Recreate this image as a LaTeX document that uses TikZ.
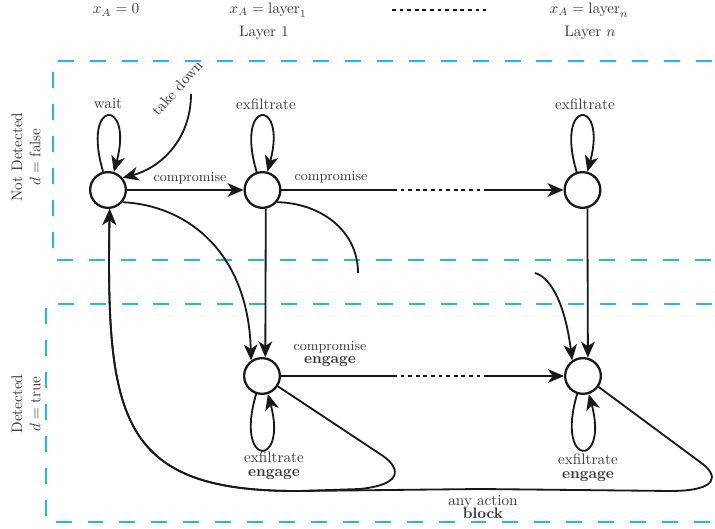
\documentclass[tikz,border=0pt]{standalone}
\usetikzlibrary{arrows.meta}
\definecolor{dashblue}{RGB}{30,185,235}
\definecolor{txt}{RGB}{55,55,55}
\begin{document}
\begin{tikzpicture}[x=0.658pt,y=-0.658pt,
  state/.style={circle,draw=black!90,line width=1.5pt,minimum size=23.5pt,inner sep=0pt},
  edge/.style={line width=1.2pt,draw=black!90},
  arr/.style={edge,-{Stealth[length=10.5pt,width=9pt,inset=3pt]}},
  lbl/.style={text=txt,font=\normalsize,inner sep=1pt,align=center},
  elbl/.style={text=txt,font=\small,inner sep=1pt,align=center},
  region/.style={draw=dashblue,line width=1.2pt,dash pattern=on 10.5pt off 10.5pt},
  dotseg/.style={edge,dash pattern=on 2.5pt off 2.5pt}]
\useasboundingbox (0,0) rectangle (715,529);

% regions
\draw[region] (712,61) -- (53,61) -- (53,260) -- (712,260);
\draw[region] (712,304) -- (46,304) -- (46,522) -- (712,522);

% header
\node[lbl] (hx0) at (116,10) {$x_A=0$};
\node[lbl] (hx1) at (268,10) {$x_A=\mathrm{layer}_1$};
\node[lbl] (hxn) at (589,10) {$x_A=\mathrm{layer}_n$};
\node[lbl] (h1) at (264,33) {Layer 1};
\node[lbl] (hn) at (590,33) {Layer $n$};
\coordinate (hd1) at (392,10);
\coordinate (hd2) at (486,10);
\draw[dotseg,line width=1.4pt] (hd1) -- (hd2);

% side labels
\node[lbl,rotate=90] (nd) at (26,157) {Not Detected\\$d=\mathrm{false}$};
\node[lbl,rotate=90] (dd) at (26,404) {Detected\\$d=\mathrm{true}$};

% states
\node[state] (A) at (108,190) {};
\node[state] (B) at (262.5,190) {};
\node[state] (C) at (582.5,190) {};
\node[state] (D) at (262,376) {};
\node[state] (E) at (583,376) {};

% self loops
\draw[arr] (A.105) .. controls +(-22,-74) and +(20,-74) .. (A.72);
\draw[arr] (B.108) .. controls +(-22,-74) and +(20,-74) .. (B.75);
\draw[arr] (C.108) .. controls +(-22,-74) and +(20,-74) .. (C.75);
\draw[arr] (D.-108) .. controls +(-22,74) and +(20,74) .. (D.-72);
\draw[arr] (E.-108) .. controls +(-22,74) and +(20,74) .. (E.-72);
\node[lbl] (lwait) at (108,104) {wait};
\node[lbl] (lexB) at (266,104) {exfiltrate};
\node[lbl] (lexC) at (585,104) {exfiltrate};
\node[lbl,align=center] (lexD) at (274,466) {exfiltrate\\[-3pt]\textbf{engage}};
\node[lbl,align=center] (lexE) at (588,468) {exfiltrate\\[-3pt]\textbf{engage}};

% take down
\coordinate (td) at (191,94);
\draw[arr] (td) .. controls (191,140) and (160,168) .. (A.40);
\node[lbl,rotate=48] (ltd) at (177,88) {take down};

% compromise A -> B
\draw[arr] (A) -- (B);
\node[elbl] (lc1) at (190,178) {compromise};

% B -> C
\coordinate (p1) at (393,190);
\coordinate (p2) at (485,190);
\draw[edge] (B) -- (p1);
\draw[dotseg] (p1) -- (p2);
\draw[arr] (p2) -- (C);
\node[elbl] (lc2) at (331,177) {compromise};

% D -> E
\coordinate (p3) at (393,376);
\coordinate (p4) at (485,376);
\draw[edge] (D) -- (p3);
\draw[dotseg] (p3) -- (p4);
\draw[arr] (p4) -- (E);
\node[elbl] (lc3) at (330,354) {compromise\\[-2pt]\normalsize\textbf{engage}};

% detection transitions
\draw[arr] (A.-40) .. controls (185,205) and (248,250) .. (D.125);
\draw[arr] (B.-80) -- (D.80);
\draw[arr] (C.-75) -- (E.75);
\coordinate (cutB) at (358,273);
\draw[edge] (B.-40) .. controls (320,203) and (358,230) .. (cutB);
\coordinate (cutE) at (535,273);
\draw[arr] (cutE) .. controls (553,278) and (566,310) .. (E.125);

% block transitions
\coordinate (m1) at (300,491);
\draw[arr] (E.-35) -- (700,462) .. controls (720,476) and (718,491) .. (670,491)
  -- (480,489) -- (m1) .. controls (120,492) and (106,420) .. (A.-85);
\draw[arr] (D.-33) -- (380,454) .. controls (398,465) and (408,484) .. (360,489)
  -- (m1) .. controls (120,492) and (106,420) .. (A.-85);
\node[lbl,align=center] (lblock) at (483,507) {any action\\[-3pt]\textbf{block}};
\end{tikzpicture}
\end{document}
